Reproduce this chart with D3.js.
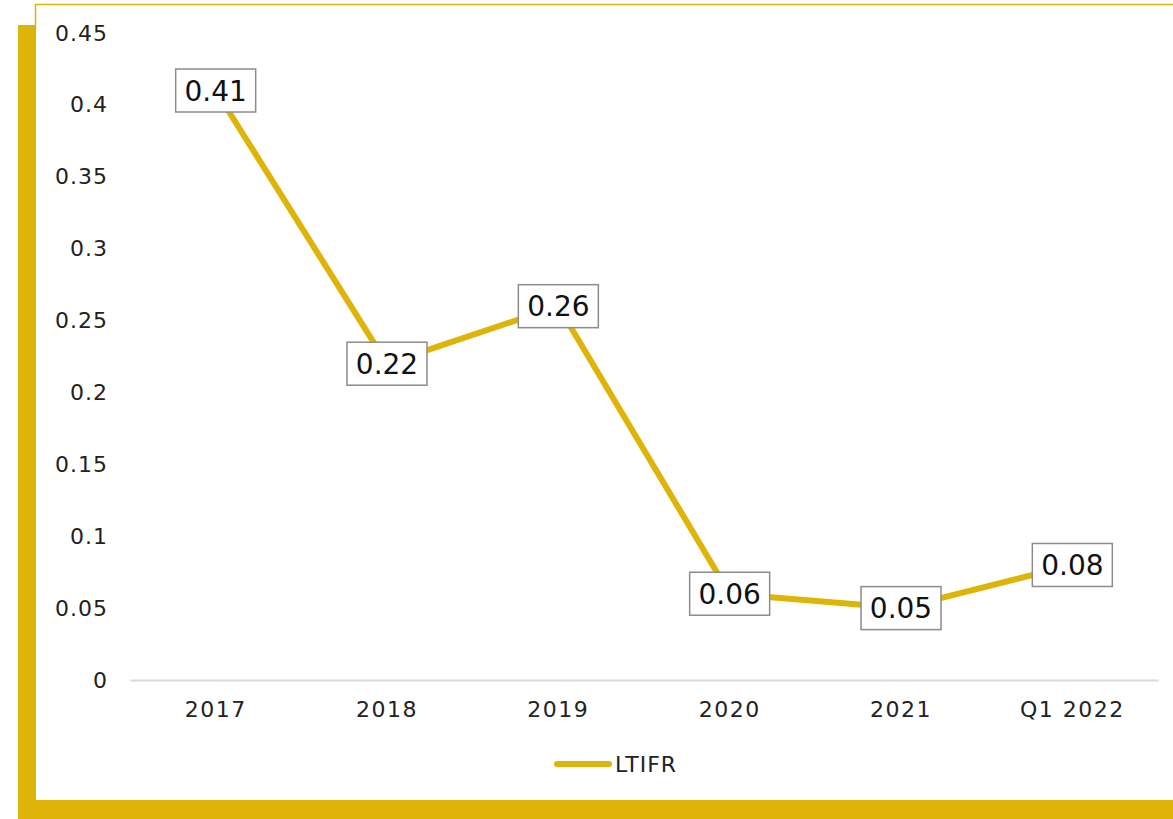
<!DOCTYPE html>
<html>
<head>
<meta charset="utf-8">
<script src="https://cdn.jsdelivr.net/npm/d3@7"></script>
<style>
  body { margin: 0; background: #fff; }
  svg { display: block; font-family: "DejaVu Sans", sans-serif; }
</style>
</head>
<body>
<svg id="chart" width="1173" height="819"></svg>
<script>
//data
const categories = ['2017', '2018', '2019', '2020', '2021', 'Q1 2022'];
const ltifr = [0.41, 0.22, 0.26, 0.06, 0.05, 0.08];
const yTicks = [0, 0.05, 0.1, 0.15, 0.2, 0.25, 0.3, 0.35, 0.4, 0.45];
const seriesName = 'LTIFR';

const GOLD = '#deb408';
const W = 1173, H = 819;
const margin = { left: 130, right: 15, top: 33, bottom: 139 };

const svg = d3.select('#chart');

// frame
svg.append('rect').attr('x', 18).attr('y', 25).attr('width', 18).attr('height', H - 25).attr('fill', GOLD);
svg.append('rect').attr('x', 18).attr('y', 800).attr('width', W - 18).attr('height', 19).attr('fill', GOLD);
svg.append('path')
  .attr('d', `M35.5,30 V4.5 H${W}`)
  .attr('fill', 'none')
  .attr('stroke', GOLD)
  .attr('stroke-width', 1.5);

// scales
const x = d3.scaleBand()
  .domain(categories)
  .range([margin.left, W - margin.right]);

const y = d3.scaleLinear()
  .domain([0, 0.45])
  .range([H - margin.bottom, margin.top]);

const cx = d => x(d) + x.bandwidth() / 2;

// y axis labels
const yAxis = svg.append('g')
  .attr('transform', `translate(${margin.left - 22},0)`)
  .call(d3.axisLeft(y).tickValues(yTicks).tickSize(0).tickPadding(0).tickFormat(d => String(+d.toFixed(2))));
yAxis.select('.domain').remove();
yAxis.selectAll('text')
  .attr('font-family', '"DejaVu Sans", sans-serif')
  .attr('font-size', 22)
  .attr('letter-spacing', 1)
  .attr('fill', '#222');

// x axis
const xAxis = svg.append('g')
  .attr('transform', `translate(0,${y(0)})`)
  .call(d3.axisBottom(x).tickSize(0).tickPadding(21));
xAxis.select('.domain').attr('stroke', '#d9d9d9').attr('stroke-width', 2);
xAxis.selectAll('text')
  .attr('font-family', '"DejaVu Sans", sans-serif')
  .attr('font-size', 22)
  .attr('letter-spacing', 1.5)
  .attr('fill', '#222');

// line
const line = d3.line()
  .x((d, i) => cx(categories[i]))
  .y(d => y(d));

svg.append('path')
  .datum(ltifr)
  .attr('fill', 'none')
  .attr('stroke', GOLD)
  .attr('stroke-width', 6)
  .attr('stroke-linejoin', 'round')
  .attr('d', line);

// data labels
const labels = svg.selectAll('.lbl')
  .data(ltifr)
  .join('g')
  .attr('class', 'lbl')
  .attr('transform', (d, i) => `translate(${cx(categories[i])},${y(d)})`);

labels.append('rect')
  .attr('x', -40)
  .attr('y', -21.5)
  .attr('width', 80)
  .attr('height', 43)
  .attr('fill', '#fff')
  .attr('stroke', '#8c8c8c')
  .attr('stroke-width', 1.5);

labels.append('text')
  .attr('text-anchor', 'middle')
  .attr('dy', '0.36em')
  .attr('font-size', 28)
  .attr('fill', '#111')
  .text(d => d.toFixed(2));

// legend
const legend = svg.append('g').attr('transform', 'translate(555,764)');
legend.append('line')
  .attr('x1', 2).attr('x2', 54)
  .attr('stroke', GOLD)
  .attr('stroke-width', 6)
  .attr('stroke-linecap', 'round');
legend.append('text')
  .attr('x', 60)
  .attr('dy', '0.36em')
  .attr('font-size', 22)
  .attr('letter-spacing', 1)
  .attr('fill', '#222')
  .text(seriesName);
</script>
</body>
</html>
